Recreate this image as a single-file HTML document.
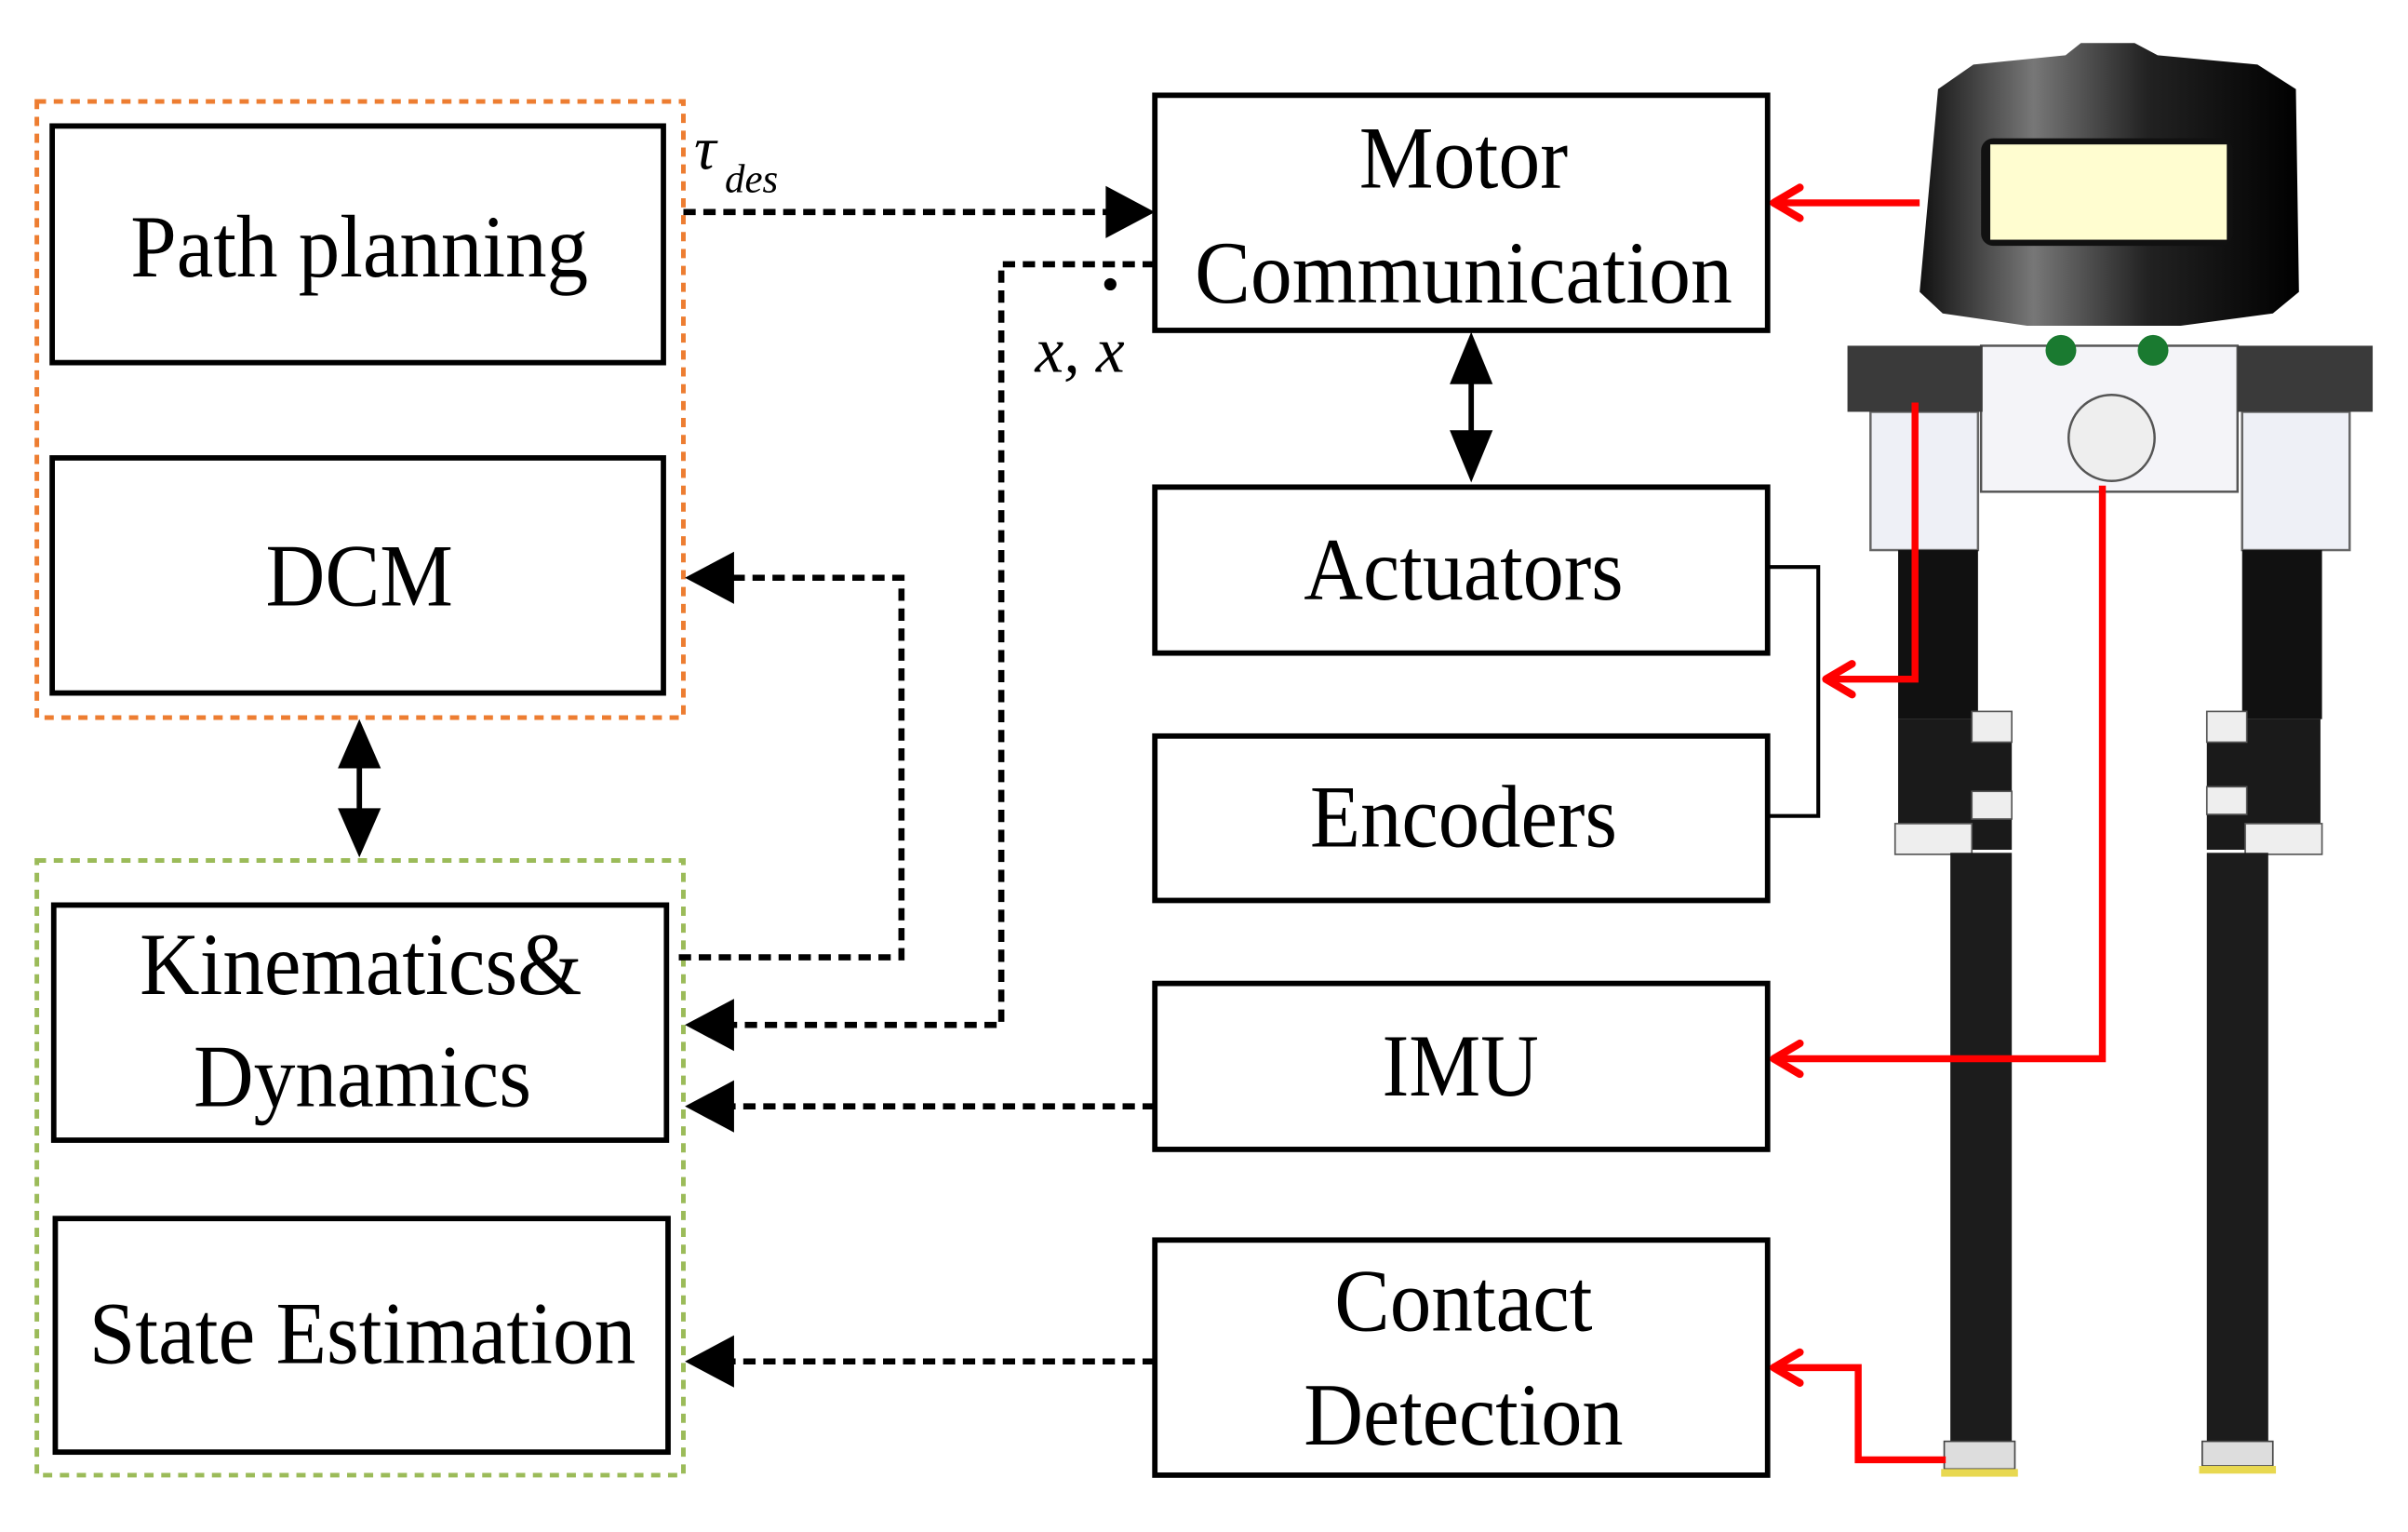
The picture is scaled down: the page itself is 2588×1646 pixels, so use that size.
<!DOCTYPE html>
<html><head><meta charset="utf-8"><style>
html,body{margin:0;padding:0;background:#fff;}
svg{display:block;}
text{font-family:"Liberation Serif",serif;fill:#000;}
</style></head><body>
<svg width="2588" height="1646" viewBox="0 0 1568 997" preserveAspectRatio="none" xmlns="http://www.w3.org/2000/svg">
<defs>
<linearGradient id="hg" x1="0" x2="1" y1="0" y2="0">
<stop offset="0" stop-color="#111"/><stop offset="0.3" stop-color="#777"/><stop offset="0.6" stop-color="#222"/><stop offset="1" stop-color="#000"/>
</linearGradient>
</defs>
<rect x="24" y="66" width="421" height="401" fill="none" stroke="#ed7d31" stroke-width="3" stroke-dasharray="6,5"/>
<rect x="24" y="560" width="421" height="400" fill="none" stroke="#9bbb59" stroke-width="3" stroke-dasharray="6,5"/>
<g fill="#fff" stroke="#000" stroke-width="3.5">
<rect x="34" y="82" width="398" height="154"/>
<rect x="34" y="298" width="398" height="153"/>
<rect x="35" y="589" width="399" height="153"/>
<rect x="36" y="793" width="399" height="152"/>
<rect x="752" y="62" width="399" height="153"/>
<rect x="752" y="317" width="399" height="108"/>
<rect x="752" y="479" width="399" height="107"/>
<rect x="752" y="640" width="399" height="108"/>
<rect x="752" y="807" width="399" height="153"/>
</g>
<g font-size="58" text-anchor="middle">
<text x="234" y="180" textLength="298" lengthAdjust="spacingAndGlyphs">Path planning</text>
<text x="234" y="394" textLength="122" lengthAdjust="spacingAndGlyphs">DCM</text>
<text x="235" y="647" textLength="288" lengthAdjust="spacingAndGlyphs">Kinematics&amp;</text>
<text x="236" y="720" textLength="220" lengthAdjust="spacingAndGlyphs">Dynamics</text>
<text x="236" y="887" textLength="356" lengthAdjust="spacingAndGlyphs">State Estimation</text>
<text x="953" y="122" textLength="136" lengthAdjust="spacingAndGlyphs">Motor</text>
<text x="953" y="197" textLength="350" lengthAdjust="spacingAndGlyphs">Communication</text>
<text x="953" y="390" textLength="208" lengthAdjust="spacingAndGlyphs">Actuators</text>
<text x="953" y="551" textLength="200" lengthAdjust="spacingAndGlyphs">Encoders</text>
<text x="951" y="713" textLength="102" lengthAdjust="spacingAndGlyphs">IMU</text>
<text x="953" y="866" textLength="168" lengthAdjust="spacingAndGlyphs">Contact</text>
<text x="953" y="940" textLength="208" lengthAdjust="spacingAndGlyphs">Detection</text>
</g>
<text x="452" y="110" font-size="40" font-style="italic">τ</text>
<text x="472" y="125" font-size="26" font-style="italic">des</text>
<text x="674" y="242" font-size="42" font-style="italic">x, x</text>
<circle cx="723" cy="185" r="4" fill="#000"/>
<g stroke="#000" stroke-width="3.5">
<line x1="234" y1="490" x2="234" y2="536"/>
<line x1="958" y1="240" x2="958" y2="290"/>
</g>
<g fill="#000">
<polygon points="234,468 220,500 248,500"/><polygon points="234,558 220,526 248,526"/>
<polygon points="958,216 944,250 972,250"/><polygon points="958,314 944,280 972,280"/>
</g>
<polyline points="1151,369 1184,369 1184,531 1151,531" fill="none" stroke="#000" stroke-width="2.5"/>
<g fill="none" stroke="#000" stroke-width="4" stroke-dasharray="8,5">
<line x1="445" y1="138" x2="722" y2="138"/>
<polyline points="752,172 652,172 652,667 476,667"/>
<polyline points="442,623 587,623 587,376 476,376"/>
<line x1="752" y1="720" x2="476" y2="720"/>
<line x1="752" y1="886" x2="476" y2="886"/>
</g>
<g fill="#000">
<polygon points="752,138 720,121 720,155"/>
<polygon points="446,667 478,650 478,684"/>
<polygon points="446,376 478,359 478,393"/>
<polygon points="446,720 478,703 478,737"/>
<polygon points="446,886 478,869 478,903"/>
</g>
<path d="M1262,58 L1285,42 L1345,36 L1355,28 L1390,28 L1405,36 L1470,42 L1495,58 L1497,190 L1480,204 L1420,212 L1320,212 L1265,204 L1250,190 Z" fill="url(#hg)"/>
<rect x="1290" y="90" width="164" height="70" rx="8" fill="#111"/>
<rect x="1296" y="94" width="154" height="62" fill="#fffdd0"/>
<rect x="1290" y="225" width="167" height="95" fill="#f4f4f8" stroke="#555" stroke-width="1.5"/>
<circle cx="1375" cy="285" r="28" fill="#eee" stroke="#555" stroke-width="1.5"/>
<circle cx="1342" cy="228" r="10" fill="#1a7a30"/><circle cx="1402" cy="228" r="10" fill="#1a7a30"/>
<rect x="1218" y="268" width="70" height="90" fill="#eef0f6" stroke="#666" stroke-width="1.5"/>
<rect x="1460" y="268" width="70" height="90" fill="#eef0f6" stroke="#666" stroke-width="1.5"/>
<rect x="1203" y="225" width="88" height="43" fill="#3a3a3a"/>
<rect x="1457" y="225" width="88" height="43" fill="#3a3a3a"/>
<rect x="1236" y="358" width="52" height="110" fill="#111"/>
<rect x="1460" y="358" width="52" height="110" fill="#111"/>
<rect x="1236" y="468" width="74" height="85" fill="#1a1a1a"/>
<rect x="1437" y="468" width="74" height="85" fill="#1a1a1a"/>
<rect x="1284" y="463" width="26" height="20" fill="#eee" stroke="#555"/>
<rect x="1284" y="515" width="26" height="18" fill="#eee" stroke="#555"/>
<rect x="1437" y="463" width="26" height="20" fill="#eee" stroke="#555"/>
<rect x="1437" y="512" width="26" height="18" fill="#eee" stroke="#555"/>
<rect x="1234" y="536" width="50" height="20" fill="#eee" stroke="#555"/>
<rect x="1462" y="536" width="50" height="20" fill="#eee" stroke="#555"/>
<rect x="1270" y="555" width="40" height="385" fill="#1c1c1c"/>
<rect x="1437" y="555" width="40" height="385" fill="#1c1c1c"/>
<rect x="1266" y="938" width="46" height="18" fill="#ddd" stroke="#444"/>
<rect x="1434" y="938" width="46" height="16" fill="#ddd" stroke="#444"/>
<rect x="1264" y="956" width="50" height="5" fill="#e8d850"/>
<rect x="1432" y="954" width="50" height="5" fill="#e8d850"/>
<g fill="none" stroke="#f00" stroke-width="4.5">
<line x1="1250" y1="132" x2="1156" y2="132"/>
<polyline points="1247,262 1247,442 1190,442"/>
<polyline points="1369,316 1369,689 1156,689"/>
<polyline points="1267,950 1210,950 1210,890 1156,890"/>
</g>
<g fill="none" stroke="#f00" stroke-width="5" stroke-linecap="round" stroke-linejoin="round">
<polyline points="1172,122 1155,132 1172,142"/>
<polyline points="1206,432 1189,442 1206,452"/>
<polyline points="1172,679 1155,689 1172,699"/>
<polyline points="1172,880 1155,890 1172,900"/>
</g>
</svg>
</body></html>
